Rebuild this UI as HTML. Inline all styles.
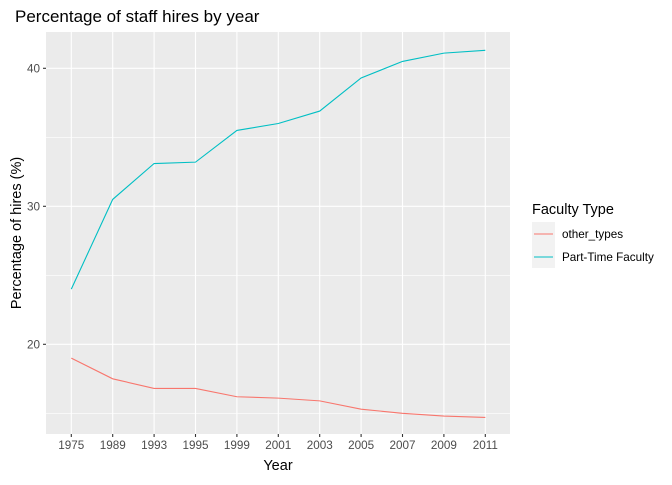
<!DOCTYPE html>
<html><head><meta charset="utf-8"><style>
body{margin:0;background:#fff;font-family:"Liberation Sans",sans-serif}
svg text{font-family:"Liberation Sans",sans-serif}
</style></head><body>
<svg id="chart" width="672" height="480" xmlns="http://www.w3.org/2000/svg">
<rect width="672" height="480" fill="#fff"/>
<text x="15" y="22" font-size="17" fill="#000">Percentage of staff hires by year</text>
<rect x="46" y="32" width="464" height="402" fill="#ebebeb"/>
<g id="grid"></g><g id="series"></g><g id="axes"></g>
<text x="278" y="470" font-size="14.5" text-anchor="middle">Year</text>
<text transform="translate(21,233) rotate(-90)" font-size="14.5" text-anchor="middle">Percentage of hires (%)</text>
<g>
<text x="532" y="214" font-size="14.5">Faculty Type</text>
<rect x="532" y="222" width="23" height="46" fill="#f2f2f2"/>
<g><line x1="534" x2="553" y1="234" y2="234" stroke="#F8766D" stroke-width="1"/><text x="562" y="238" font-size="11.7">other_types</text></g>
<g><line x1="534" x2="553" y1="257" y2="257" stroke="#00BFC4" stroke-width="1"/><text x="562" y="261" font-size="11.7">Part-Time Faculty</text></g>
</g>
</svg>
<script>
const years=["1975","1989","1993","1995","1999","2001","2003","2005","2007","2009","2011"];
const partTime=[24.0,30.5,33.1,33.2,35.5,36.0,36.9,39.3,40.5,41.1,41.3];
const otherTypes=[19.0,17.5,16.8,16.8,16.2,16.1,15.9,15.3,15.0,14.8,14.7];
const yTicks=[20,30,40];
const yMinor=[15,25,35];
const NS="http://www.w3.org/2000/svg";
const X0=71.3,DX=41.4;
function xs(i){return X0+i*DX;}
function ys(v){return 344.3-(v-20)*13.8;}
function mk(t,a,p){const e=document.createElementNS(NS,t);for(const k in a)e.setAttribute(k,a[k]);p.appendChild(e);return e;}
const grid=document.getElementById('grid'),axes=document.getElementById('axes'),ser=document.getElementById('series');
yMinor.forEach(v=>{const l=mk('line',{x1:46,x2:510,y1:ys(v),y2:ys(v),stroke:'#fff','stroke-width':0.55},grid);

});
yTicks.forEach(v=>{const l=mk('line',{x1:46,x2:510,y1:ys(v),y2:ys(v),stroke:'#fff','stroke-width':1.1},grid);


const t=mk('line',{x1:43,x2:46,y1:ys(v),y2:ys(v),stroke:'#333','stroke-width':1.1},axes);


const tx=mk('text',{x:40,y:ys(v)+4,'font-size':11.7,fill:'#4d4d4d','text-anchor':'end'},axes);tx.textContent=v;

});
years.forEach((y,i)=>{const l=mk('line',{x1:xs(i),x2:xs(i),y1:32,y2:434,stroke:'#fff','stroke-width':1.1},grid);


const t=mk('line',{x1:xs(i),x2:xs(i),y1:434,y2:437,stroke:'#333','stroke-width':1.1},axes);


const tx=mk('text',{x:xs(i),y:449,'font-size':11.7,fill:'#4d4d4d','text-anchor':'middle'},axes);tx.textContent=y;

});
function line(vals,color,name){const p=mk('polyline',{points:vals.map((v,i)=>xs(i)+','+ys(v)).join(' '),fill:'none',stroke:color,'stroke-width':1.1},ser);

}
line(otherTypes,'#F8766D','other-types-line');
line(partTime,'#00BFC4','part-time-faculty-line');
</script>
</body></html>
